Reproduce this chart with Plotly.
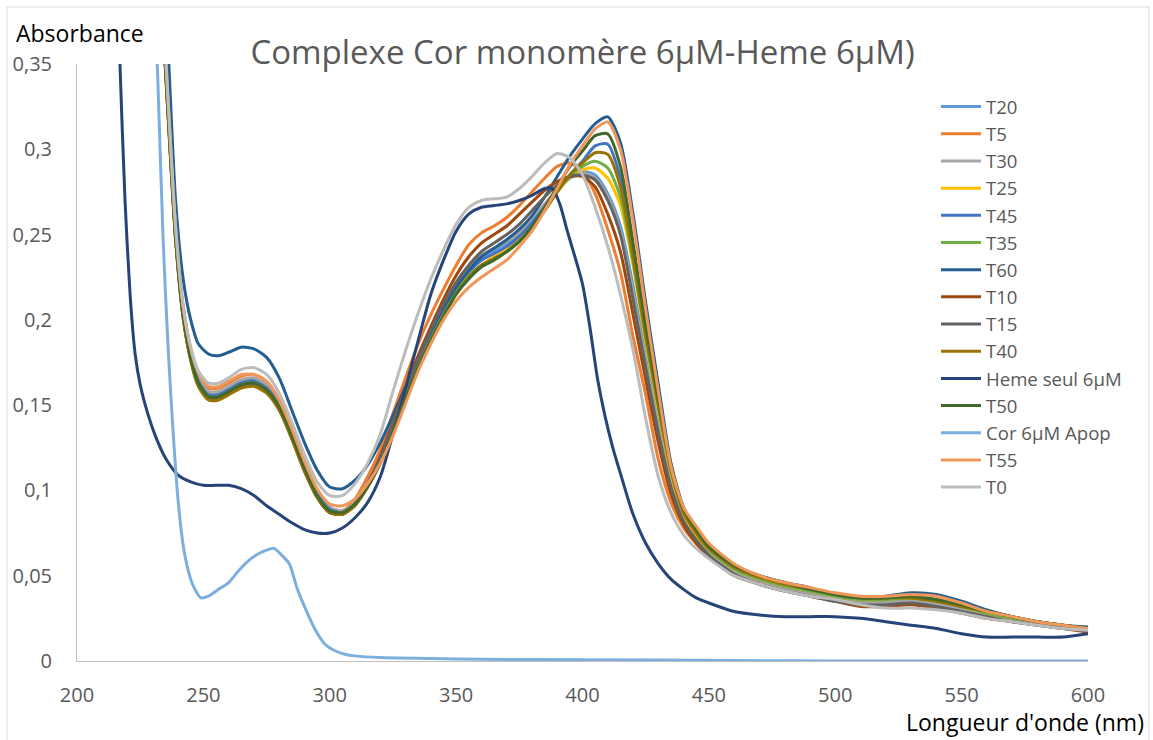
import plotly.graph_objects as go

# ---------------- data ----------------
TW = [226, 230, 233, 236, 239, 242, 245, 248,
      252, 256, 260, 265, 270, 275, 280, 285, 290, 295,
      300, 305, 310, 315, 320, 325, 330, 335, 340, 345,
      350, 355, 360, 365, 370, 375, 380, 385, 390, 395,
      400, 405, 410, 415, 420, 425, 430, 435, 440, 445,
      450, 460, 470, 480, 490, 500, 510, 520, 530, 540, 550, 560, 570, 580, 590, 600]

T20 = [0.62, 0.48, 0.40, 0.325, 0.25, 0.205, 0.18, 0.165,
       0.157, 0.157, 0.160, 0.164, 0.165, 0.161, 0.151, 0.134, 0.115, 0.099,
       0.090, 0.088, 0.093, 0.104, 0.118, 0.137, 0.157, 0.176, 0.193, 0.207,
       0.219, 0.229, 0.237, 0.241, 0.245, 0.250, 0.258, 0.267, 0.276, 0.284,
       0.287, 0.285, 0.274, 0.255, 0.220, 0.178, 0.140, 0.106, 0.084, 0.072,
       0.064, 0.053, 0.047, 0.043, 0.040, 0.037, 0.035, 0.035, 0.036, 0.034, 0.031, 0.028, 0.025, 0.023, 0.021, 0.019]

T5 = [0.62, 0.48, 0.40, 0.33, 0.255, 0.208, 0.183, 0.168,
      0.160, 0.160, 0.163, 0.167, 0.168, 0.164, 0.153, 0.136, 0.116, 0.099,
      0.089, 0.088, 0.095, 0.108, 0.124, 0.145, 0.166, 0.186, 0.203, 0.218,
      0.232, 0.244, 0.251, 0.255, 0.260, 0.267, 0.275, 0.283, 0.290, 0.292,
      0.287, 0.274, 0.253, 0.228, 0.190, 0.156, 0.118, 0.093, 0.078, 0.069,
      0.062, 0.052, 0.046, 0.042, 0.039, 0.036, 0.034, 0.034, 0.034, 0.032, 0.029, 0.026, 0.024, 0.022, 0.020, 0.018]

T30 = [0.62, 0.48, 0.40, 0.325, 0.252, 0.206, 0.181, 0.166,
       0.158, 0.158, 0.161, 0.165, 0.166, 0.162, 0.152, 0.135, 0.116, 0.099,
       0.090, 0.088, 0.093, 0.105, 0.119, 0.138, 0.158, 0.177, 0.194, 0.208,
       0.220, 0.230, 0.238, 0.242, 0.246, 0.251, 0.259, 0.268, 0.276, 0.283,
       0.286, 0.283, 0.272, 0.252, 0.216, 0.175, 0.137, 0.104, 0.083, 0.071,
       0.063, 0.052, 0.046, 0.042, 0.039, 0.036, 0.034, 0.034, 0.035, 0.033, 0.030, 0.027, 0.024, 0.022, 0.020, 0.018]

T25 = [0.62, 0.48, 0.40, 0.32, 0.248, 0.202, 0.177, 0.163,
       0.155, 0.155, 0.158, 0.162, 0.163, 0.159, 0.149, 0.132, 0.113, 0.097,
       0.088, 0.087, 0.092, 0.103, 0.117, 0.135, 0.155, 0.173, 0.189, 0.203,
       0.215, 0.225, 0.232, 0.237, 0.241, 0.247, 0.255, 0.265, 0.275, 0.284,
       0.288, 0.289, 0.283, 0.267, 0.232, 0.187, 0.147, 0.110, 0.086, 0.074,
       0.065, 0.054, 0.048, 0.044, 0.041, 0.038, 0.036, 0.036, 0.037, 0.035, 0.032, 0.028, 0.025, 0.023, 0.021, 0.019]

T45 = [0.62, 0.48, 0.40, 0.325, 0.25, 0.204, 0.179, 0.164,
       0.156, 0.156, 0.159, 0.163, 0.164, 0.160, 0.150, 0.133, 0.114, 0.098,
       0.089, 0.087, 0.092, 0.103, 0.118, 0.136, 0.156, 0.175, 0.191, 0.205,
       0.218, 0.228, 0.235, 0.239, 0.243, 0.249, 0.257, 0.266, 0.276, 0.285,
       0.293, 0.302, 0.303, 0.283, 0.240, 0.193, 0.151, 0.113, 0.088, 0.076,
       0.066, 0.055, 0.049, 0.045, 0.042, 0.039, 0.037, 0.037, 0.038, 0.036, 0.032, 0.029, 0.026, 0.023, 0.021, 0.019]

T35 = [0.62, 0.48, 0.40, 0.322, 0.249, 0.203, 0.178, 0.163,
       0.155, 0.155, 0.158, 0.162, 0.163, 0.159, 0.149, 0.132, 0.113, 0.097,
       0.088, 0.087, 0.092, 0.103, 0.117, 0.135, 0.155, 0.173, 0.189, 0.203,
       0.216, 0.226, 0.232, 0.236, 0.240, 0.246, 0.254, 0.264, 0.275, 0.284,
       0.290, 0.293, 0.289, 0.272, 0.234, 0.189, 0.149, 0.111, 0.087, 0.075,
       0.065, 0.054, 0.048, 0.044, 0.041, 0.038, 0.036, 0.036, 0.037, 0.035, 0.032, 0.028, 0.025, 0.023, 0.021, 0.019]

T60 = [0.66, 0.52, 0.44, 0.36, 0.27, 0.224, 0.20, 0.186,
       0.180, 0.179, 0.181, 0.184, 0.183, 0.178, 0.166, 0.147, 0.128, 0.112,
       0.102, 0.101, 0.106, 0.115, 0.128, 0.144, 0.161, 0.178, 0.193, 0.207,
       0.219, 0.229, 0.237, 0.242, 0.247, 0.253, 0.261, 0.272, 0.284, 0.296,
       0.306, 0.315, 0.319, 0.304, 0.262, 0.210, 0.162, 0.116, 0.090, 0.077,
       0.067, 0.056, 0.050, 0.046, 0.043, 0.039, 0.037, 0.038, 0.040, 0.039, 0.035, 0.030, 0.026, 0.023, 0.021, 0.020]

T10 = [0.62, 0.48, 0.40, 0.322, 0.248, 0.202, 0.177, 0.162,
       0.154, 0.154, 0.157, 0.161, 0.162, 0.158, 0.148, 0.131, 0.112, 0.096,
       0.087, 0.086, 0.092, 0.104, 0.120, 0.140, 0.160, 0.179, 0.196, 0.212,
       0.226, 0.237, 0.245, 0.250, 0.255, 0.262, 0.269, 0.276, 0.281, 0.284,
       0.284, 0.278, 0.262, 0.240, 0.203, 0.165, 0.128, 0.098, 0.080, 0.069,
       0.061, 0.050, 0.045, 0.041, 0.038, 0.035, 0.032, 0.032, 0.033, 0.031, 0.028, 0.025, 0.023, 0.021, 0.019, 0.017]

T15 = [0.62, 0.48, 0.40, 0.322, 0.248, 0.202, 0.177, 0.162,
       0.154, 0.154, 0.157, 0.161, 0.162, 0.158, 0.148, 0.131, 0.112, 0.096,
       0.087, 0.086, 0.092, 0.104, 0.119, 0.139, 0.159, 0.177, 0.194, 0.209,
       0.222, 0.232, 0.240, 0.245, 0.250, 0.256, 0.264, 0.272, 0.279, 0.284,
       0.285, 0.282, 0.270, 0.250, 0.212, 0.172, 0.134, 0.102, 0.082, 0.071,
       0.062, 0.051, 0.045, 0.041, 0.038, 0.035, 0.033, 0.033, 0.034, 0.032, 0.029, 0.026, 0.023, 0.021, 0.019, 0.018]

T40 = [0.62, 0.48, 0.40, 0.32, 0.247, 0.201, 0.176, 0.161,
       0.153, 0.153, 0.156, 0.160, 0.161, 0.157, 0.147, 0.130, 0.111, 0.096,
       0.087, 0.086, 0.091, 0.102, 0.116, 0.134, 0.154, 0.172, 0.188, 0.202,
       0.215, 0.225, 0.232, 0.236, 0.240, 0.246, 0.254, 0.264, 0.275, 0.285,
       0.292, 0.298, 0.297, 0.278, 0.237, 0.191, 0.150, 0.112, 0.087, 0.075,
       0.066, 0.055, 0.049, 0.045, 0.042, 0.039, 0.037, 0.037, 0.037, 0.035, 0.032, 0.029, 0.026, 0.023, 0.021, 0.019]

T50 = [0.62, 0.48, 0.40, 0.323, 0.249, 0.203, 0.178, 0.163,
       0.155, 0.155, 0.158, 0.162, 0.163, 0.159, 0.149, 0.132, 0.113, 0.097,
       0.088, 0.087, 0.092, 0.102, 0.116, 0.134, 0.154, 0.172, 0.188, 0.202,
       0.215, 0.224, 0.231, 0.235, 0.240, 0.246, 0.255, 0.266, 0.278, 0.290,
       0.299, 0.308, 0.309, 0.290, 0.245, 0.197, 0.154, 0.115, 0.089, 0.077,
       0.067, 0.056, 0.050, 0.046, 0.042, 0.039, 0.037, 0.037, 0.038, 0.036, 0.033, 0.029, 0.026, 0.023, 0.021, 0.019]

T55 = [0.62, 0.49, 0.41, 0.33, 0.255, 0.208, 0.183, 0.169,
       0.161, 0.161, 0.164, 0.168, 0.168, 0.164, 0.153, 0.136, 0.117, 0.101,
       0.092, 0.091, 0.095, 0.104, 0.116, 0.132, 0.151, 0.170, 0.186, 0.200,
       0.211, 0.219, 0.225, 0.230, 0.235, 0.243, 0.252, 0.264, 0.277, 0.291,
       0.302, 0.312, 0.316, 0.300, 0.258, 0.206, 0.158, 0.114, 0.090, 0.079,
       0.069, 0.057, 0.050, 0.046, 0.043, 0.040, 0.038, 0.038, 0.039, 0.038, 0.034, 0.029, 0.026, 0.023, 0.021, 0.019]

T0 = [0.62, 0.49, 0.41, 0.33, 0.255, 0.208, 0.184, 0.170,
      0.163, 0.163, 0.166, 0.171, 0.172, 0.168, 0.157, 0.140, 0.121, 0.105,
      0.097, 0.097, 0.104, 0.116, 0.133, 0.158, 0.182, 0.204, 0.224, 0.241,
      0.256, 0.266, 0.270, 0.271, 0.272, 0.277, 0.284, 0.292, 0.2975, 0.295,
      0.285, 0.266, 0.243, 0.215, 0.182, 0.142, 0.108, 0.087, 0.074, 0.066,
      0.060, 0.050, 0.045, 0.041, 0.038, 0.036, 0.033, 0.031, 0.031, 0.030, 0.028, 0.025, 0.023, 0.021, 0.019, 0.018]

HEME_W = [212, 215, 217, 219, 221, 223, 225, 228, 231, 235, 240, 245, 250, 255, 260, 265, 270, 275,
          280, 285, 290, 295, 300, 305, 310, 315, 320, 325, 330, 335, 340, 345, 350, 355, 360, 365,
          370, 375, 380, 385, 388, 391, 394, 397, 400, 403, 406, 409, 412, 415, 420, 425, 430, 435,
          440, 445, 450, 460, 470, 480, 490, 500, 510, 520, 530, 540, 550, 560, 570, 580, 590, 600]
HEME = [0.60, 0.45, 0.35, 0.27, 0.215, 0.18, 0.162, 0.145, 0.132, 0.119, 0.109, 0.105, 0.103, 0.103,
        0.103, 0.101, 0.097, 0.091, 0.086, 0.081, 0.077, 0.075, 0.075, 0.078, 0.084, 0.093, 0.108,
        0.133, 0.160, 0.188, 0.215, 0.235, 0.252, 0.262, 0.266, 0.267, 0.268, 0.270, 0.273, 0.277,
        0.277, 0.268, 0.252, 0.237, 0.221, 0.195, 0.165, 0.143, 0.125, 0.110, 0.086, 0.069, 0.057,
        0.048, 0.042, 0.037, 0.034, 0.029, 0.027, 0.026, 0.026, 0.026, 0.025, 0.023, 0.021, 0.019,
        0.016, 0.014, 0.014, 0.014, 0.014, 0.016]

COR_W = [226, 230, 232, 234, 236, 238, 240, 242, 244, 246, 249, 252, 256, 260, 264, 268, 272, 275,
         278, 281, 284, 287, 290, 294, 298, 302, 306, 310, 320, 340, 360, 400, 460, 500, 600]
COR = [0.80, 0.42, 0.34, 0.25, 0.185, 0.135, 0.094, 0.068, 0.053, 0.044, 0.037, 0.038, 0.042,
       0.046, 0.053, 0.059, 0.063, 0.065, 0.066, 0.062, 0.057, 0.043, 0.032, 0.019, 0.010, 0.006,
       0.004, 0.003, 0.002, 0.0015, 0.001, 0.0008, 0.0003, 0.0, 0.0]

SERIES = [
    ("T20", TW, T20, "#5B9BD5"),
    ("T5", TW, T5, "#ED7D31"),
    ("T30", TW, T30, "#A5A5A5"),
    ("T25", TW, T25, "#FFC000"),
    ("T45", TW, T45, "#4472C4"),
    ("T35", TW, T35, "#70AD47"),
    ("T60", TW, T60, "#255E91"),
    ("T10", TW, T10, "#9E480E"),
    ("T15", TW, T15, "#636363"),
    ("T40", TW, T40, "#997300"),
    ("Heme seul 6µM", HEME_W, HEME, "#264478"),
    ("T50", TW, T50, "#43682B"),
    ("Cor 6µM Apop", COR_W, COR, "#7CAFDD"),
    ("T55", TW, T55, "#F1975A"),
    ("T0", TW, T0, "#BCBCBC"),
]

X_TICKS = [200, 250, 300, 350, 400, 450, 500, 550, 600]
Y_TICKS = [0, 0.05, 0.1, 0.15, 0.2, 0.25, 0.3, 0.35]
Y_TICKTEXT = ["0", "0,05", "0,1", "0,15", "0,2", "0,25", "0,3", "0,35"]

TITLE = "Complexe Cor monomère 6µM-Heme 6µM)"
FONT = "Open Sans, sans-serif"
GREY = "#595959"

fig = go.Figure()
for name, xs, ys, col in SERIES:
    fig.add_trace(go.Scatter(x=xs, y=ys, name=name, mode="lines",
                             line=dict(color=col, width=3, shape="spline", smoothing=0.7)))

W, H = 1153, 740
L, R, T, B = 77, 65, 64, 79
pw, ph = W - L - R, H - T - B

def px2x(px):
    return (px - L) / pw

def py2y(py):
    return (H - B - py) / ph

fig.update_layout(
    width=W, height=H,
    margin=dict(l=L, r=R, t=T, b=B),
    paper_bgcolor="white", plot_bgcolor="white",
    font=dict(family=FONT, color=GREY, size=20),
    title=dict(text=TITLE, x=0.5, xref="paper", xanchor="center",
               y=1 - 52 / H, yref="container", yanchor="middle",
               font=dict(family=FONT, size=33, color=GREY)),
    xaxis=dict(range=[200, 600], tickvals=X_TICKS, showgrid=False, zeroline=False,
               showline=True, linecolor="#BFBFBF", linewidth=1, ticks="",
               ticklabelstandoff=16, tickfont=dict(size=20, color=GREY)),
    yaxis=dict(range=[0, 0.35], tickvals=Y_TICKS, ticktext=Y_TICKTEXT, showgrid=False,
               zeroline=False, showline=True, linecolor="#BFBFBF", linewidth=1, ticks="",
               ticklabelstandoff=20, tickfont=dict(size=20, color=GREY)),
    legend=dict(x=px2x(936), y=py2y(88), xanchor="left", yanchor="top",
                font=dict(family=FONT, size=18.6, color=GREY), bgcolor="rgba(0,0,0,0)",
                tracegroupgap=0, itemwidth=40),
    showlegend=True,
)

fig.add_annotation(text="Absorbance", xref="paper", yref="paper", x=px2x(14), y=py2y(33),
                   xanchor="left", yanchor="middle", showarrow=False,
                   font=dict(family=FONT, size=23, color="#000000"))
fig.add_annotation(text="Longueur d'onde (nm)", xref="paper", yref="paper", x=px2x(1146), y=py2y(722),
                   xanchor="right", yanchor="middle", showarrow=False,
                   font=dict(family=FONT, size=23, color="#000000"))
fig.add_shape(type="rect", xref="paper", yref="paper", x0=px2x(7), x1=px2x(1149),
              y0=py2y(760), y1=py2y(7), line=dict(color="#D9D9D9", width=1), layer="below")

fig.write_html("out.html", config={"displayModeBar": False},
               post_script="document.body.style.margin='0';")
